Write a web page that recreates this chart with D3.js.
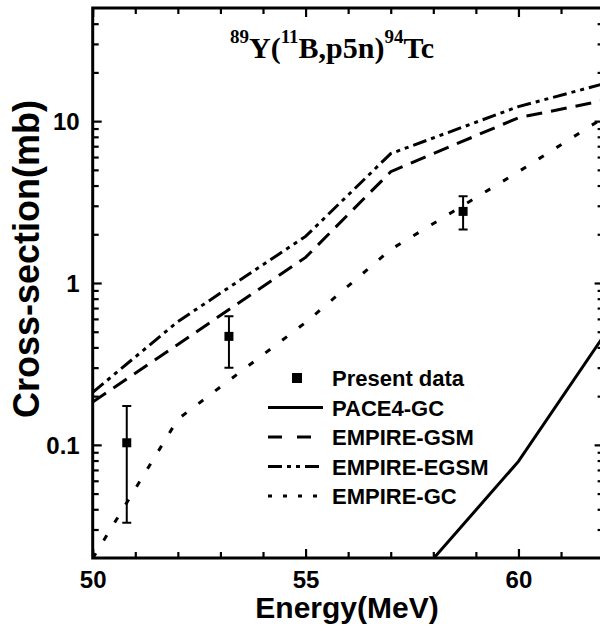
<!DOCTYPE html>
<html>
<head>
<meta charset="utf-8">
<script src="https://cdn.jsdelivr.net/npm/d3@7"></script>
<style>
  html, body { margin: 0; padding: 0; background: #fff; }
  svg { display: block; }
  text { font-family: "Liberation Sans", Arial, sans-serif; font-weight: bold; fill: #000; }
</style>
</head>
<body>
<svg id="chart" width="600" height="631"></svg>
<script>
// Model calculations (energy grid in MeV, cross-section in mb)
const modelEnergy = [50, 52, 55, 57, 60, 62];
const empireGSM  = [0.184, 0.417, 1.44, 4.87, 10.5, 13.4];
const empireEGSM = [0.211, 0.578, 1.94, 6.3, 12.3, 17.0];
const empireGC   = [0.0199, 0.144, 0.57, 1.61, 4.87, 10.5];

const paceEnergy = [58, 60, 62];
const pace4GC    = [0.0198, 0.079, 0.47];

// Measured points with error bars
const expEnergy = [50.8, 53.2, 58.7];
const expValue  = [0.103, 0.468, 2.77];
const expLow    = [0.033, 0.30, 2.14];
const expHigh   = [0.174, 0.624, 3.43];

// Axis ticks
const xMajorTicks = [50, 55, 60];
const xMinorTicks = [51, 52, 53, 54, 56, 57, 58, 59, 61, 62];
const yMajorTicks = [0.1, 1, 10];
const yTickLabels = ["0.1", "1", "10"];
const yMinorTicks = [0.03, 0.04, 0.05, 0.06, 0.07, 0.08, 0.09,
                     0.2, 0.3, 0.4, 0.5, 0.6, 0.7, 0.8, 0.9,
                     2, 3, 4, 5, 6, 7, 8, 9, 20, 30, 40];

const legendLabels = ["Present data", "PACE4-GC", "EMPIRE-GSM", "EMPIRE-EGSM", "EMPIRE-GC"];

const svg = d3.select("#chart");
const L = 92.7, R = 603.6, T = 8, B = 558;

const x = d3.scaleLinear().domain([50, 62]).range([L, R]);
const y = d3.scaleLog().domain([0.02, 50]).range([B, T]);

svg.append("defs").append("clipPath").attr("id", "plotClip")
  .append("rect").attr("x", L).attr("y", T).attr("width", R - L).attr("height", B - T);

// Axes: ticks point into the plot area
function styleAxis(g) {
  g.select(".domain").remove();
  g.selectAll(".tick line").attr("stroke", "#000").attr("stroke-width", 2.2);
  g.selectAll(".tick text").style("font-size", "24px").attr("fill", "#000");
}
const major = 9, minor = 6;

svg.append("g").attr("transform", `translate(0,${B})`)
  .call(d3.axisBottom(x).tickValues(xMajorTicks).tickSize(-major).tickPadding(13).tickFormat(d3.format("d")))
  .call(styleAxis);
svg.append("g").attr("transform", `translate(0,${B})`)
  .call(d3.axisBottom(x).tickValues(xMinorTicks).tickSize(-minor).tickFormat(""))
  .call(styleAxis);
svg.append("g").attr("transform", `translate(0,${T})`)
  .call(d3.axisTop(x).tickValues(xMajorTicks).tickSize(-major).tickFormat(""))
  .call(styleAxis);
svg.append("g").attr("transform", `translate(0,${T})`)
  .call(d3.axisTop(x).tickValues(xMinorTicks).tickSize(-minor).tickFormat(""))
  .call(styleAxis);

svg.append("g").attr("transform", `translate(${L},0)`)
  .call(d3.axisLeft(y).tickValues(yMajorTicks).tickSize(-major).tickPadding(13)
        .tickFormat((d, i) => yTickLabels[i]))
  .call(styleAxis)
  .selectAll(".tick text").attr("dy", "0.36em");
svg.append("g").attr("transform", `translate(${L},0)`)
  .call(d3.axisLeft(y).tickValues(yMinorTicks).tickSize(-minor).tickFormat(""))
  .call(styleAxis);
svg.append("g").attr("transform", `translate(${R},0)`)
  .call(d3.axisRight(y).tickValues(yMajorTicks).tickSize(-major).tickFormat(""))
  .call(styleAxis);
svg.append("g").attr("transform", `translate(${R},0)`)
  .call(d3.axisRight(y).tickValues(yMinorTicks).tickSize(-minor).tickFormat(""))
  .call(styleAxis);

// Frame
svg.append("rect").attr("x", L).attr("y", T).attr("width", R - L).attr("height", B - T)
  .attr("fill", "none").attr("stroke", "#000").attr("stroke-width", 3);

// Curves
const plot = svg.append("g").attr("clip-path", "url(#plotClip)");
const line = d3.line().x(d => x(d[0])).y(d => y(d[1]));

const curves = [
  { xs: paceEnergy, ys: pace4GC, dash: null },
  { xs: modelEnergy, ys: empireGSM, dash: "16,9" },
  { xs: modelEnergy, ys: empireEGSM, dash: "14,5,4,5,4,5" },
  { xs: modelEnergy, ys: empireGC, dash: "6,15" }
];
curves.forEach(c => {
  plot.append("path")
    .datum(c.xs.map((e, i) => [e, c.ys[i]]))
    .attr("d", line)
    .attr("fill", "none").attr("stroke", "#000").attr("stroke-width", 3)
    .attr("stroke-dasharray", c.dash);
});

// Measured points
const pts = expEnergy.map((e, i) => ({ e, v: expValue[i], lo: expLow[i], hi: expHigh[i] }));
const eb = plot.selectAll(".eb").data(pts).enter().append("g");
eb.append("line").attr("x1", d => x(d.e)).attr("x2", d => x(d.e))
  .attr("y1", d => y(d.lo)).attr("y2", d => y(d.hi))
  .attr("stroke", "#000").attr("stroke-width", 2);
["lo", "hi"].forEach(k => {
  eb.append("line").attr("x1", d => x(d.e) - 4.5).attr("x2", d => x(d.e) + 4.5)
    .attr("y1", d => y(d[k])).attr("y2", d => y(d[k]))
    .attr("stroke", "#000").attr("stroke-width", 2);
});
eb.append("rect").attr("x", d => x(d.e) - 4.5).attr("y", d => y(d.v) - 4.5)
  .attr("width", 9).attr("height", 9).attr("fill", "#000");

// Legend
const lg = svg.append("g");
const rowY = i => 378 + i * 29.5;
lg.append("rect").attr("x", 292).attr("y", rowY(0) - 5).attr("width", 10).attr("height", 10).attr("fill", "#000");
const legendDash = [null, "14,15", "14,5,4,5,4,5", "4,11"];
legendDash.forEach((d, i) => {
  lg.append("line").attr("x1", 268).attr("x2", 323)
    .attr("y1", rowY(i + 1)).attr("y2", rowY(i + 1))
    .attr("stroke", "#000").attr("stroke-width", 3).attr("stroke-dasharray", d);
});
legendLabels.forEach((t, i) => {
  lg.append("text").attr("x", 332).attr("y", rowY(i) + 8).style("font-size", "22px").text(t);
});

// Title with isotope notation
const title = svg.append("text").attr("x", 332).attr("y", 58).attr("text-anchor", "middle")
  .style("font-family", "'Liberation Serif', 'Times New Roman', serif").style("font-size", "30px");
const parts = [["89", true], ["Y(", false], ["11", true], ["B,p5n)", false], ["94", true], ["Tc", false]];
parts.forEach(([s, sup]) => {
  title.append("tspan").text(s)
    .style("font-size", sup ? "19px" : "30px")
    .attr("baseline-shift", sup ? "15px" : null);
});

// Axis titles
svg.append("text").attr("x", 347).attr("y", 618).attr("text-anchor", "middle")
  .style("font-size", "30px").text("Energy(MeV)");
svg.append("text").attr("transform", "translate(39,259) rotate(-90)").attr("text-anchor", "middle")
  .style("font-size", "36px").text("Cross-section(mb)");
</script>
</body>
</html>
